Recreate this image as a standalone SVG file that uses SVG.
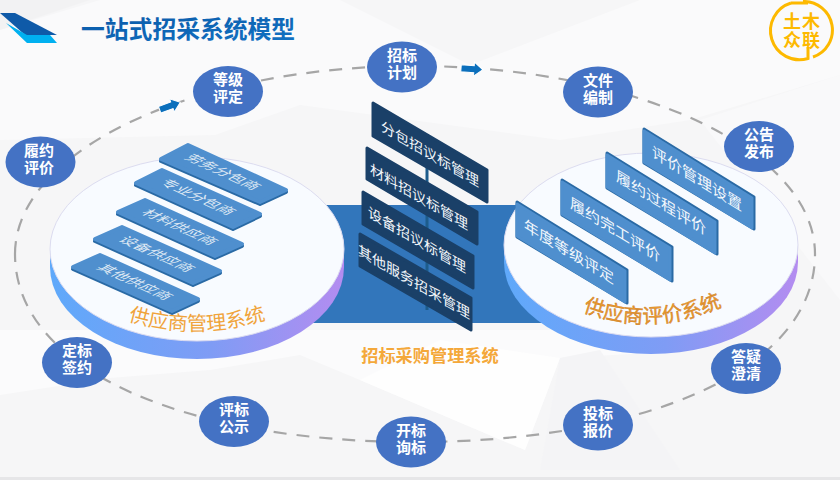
<svg xmlns="http://www.w3.org/2000/svg" width="840" height="480" viewBox="0 0 840 480">
<style>
text{font-family:"Liberation Sans","Noto Sans CJK SC",sans-serif}
.nb{fill:#4472c4}
.nt{fill:#fff;font-size:15px;font-weight:700;text-anchor:middle}
.dark{fill:#1a4068;stroke:#1a4068;stroke-width:3;stroke-linejoin:round}
.dt{fill:#f2f6fa;font-size:14px;text-anchor:middle}
.lc{fill:#4f8fce;stroke:#4f8fce;stroke-width:4;stroke-linejoin:round}
.le{fill:#2a6aa5;stroke:#2a6aa5;stroke-width:4;stroke-linejoin:round}
.lt{fill:#dfe9f4;font-size:14px;text-anchor:middle}
.rc{fill:#4f8fce;stroke:#4f8fce;stroke-width:3;stroke-linejoin:round}
.re{fill:#2a6aa5;stroke:#2a6aa5;stroke-width:3;stroke-linejoin:round}
.rt{fill:#f2f7fc;font-size:15px;text-anchor:middle}
.top{fill:#f8fbff;stroke:#dcdcf0;stroke-width:1}
.logo{fill:none;stroke:#fdb900;stroke-width:3}
.lg{fill:#fdb900;font-size:18px;font-weight:700;text-anchor:middle}
</style>
<defs>
<linearGradient id="rim" x1="0" x2="1" y1="0" y2="0"><stop offset="0" stop-color="#5fa9fa"/><stop offset=".55" stop-color="#7f9cf5"/><stop offset="1" stop-color="#b48cf0"/></linearGradient>
<linearGradient id="title" x1="0" x2="1" y1="0" y2="1"><stop offset="0" stop-color="#0a5aa8"/><stop offset="1" stop-color="#1272c4"/></linearGradient>
<path id="arr" d="M-11,-3.500H2V-7L11,0L2,7V3.500H-11Z" fill="#0b6fbc" stroke="#fff" stroke-width="1"/>
<path id="p1" d="M126,320 Q197,342 268,319"/>
<path id="p2" d="M582,311 Q653,338 723,306"/>
</defs>

<g id="background">
<rect width="840" height="480" fill="#f6f6f7"/>
<polygon points="0,30 100,0 340,0 470,65 640,0 840,0 840,75 690,120 560,140 300,105 215,135 0,140" fill="#fafafb"/>
<polygon points="0,0 90,0 0,30" fill="#f2f2f3"/>
<polygon points="0,395 110,378 210,370 300,355 360,380 525,450 560,358 700,350 620,330 300,330 80,330 0,330" fill="#fbfbfc"/>
<polygon points="360,380 525,450 560,358 440,340" fill="#fefefe"/>
<polygon points="560,358 600,350 680,470 540,470" fill="#f4f4f6"/>
<polygon points="840,75 700,120 840,300" fill="#f9f9fa"/>
<rect y="477" width="840" height="3" fill="#e6e6e8"/>
</g>

<g id="corner-mark">
<polygon points="0,13 15,13 57,35 25,35" fill="#0f5aa8"/>
<polygon points="6,23 27,35 50,35 57,43 27,43" fill="#00b0f0"/>
</g>
<text id="title-text" x="81" y="38" font-size="23.800" font-weight="700" fill="url(#title)">一站式招采系统模型</text>

<g id="logo">
<path class="logo" d="M791,3 A28.500,28.500 0 0 0 808,58.500 V47"/>
<path class="logo" d="M803,1.500 A28.500,28.500 0 0 1 813,57"/>
<path class="logo" d="M791,3 H808"/>
<text class="lg" x="792" y="28">土</text><text class="lg" x="811" y="28">木</text>
<text class="lg" x="792" y="47">众</text><text class="lg" x="811" y="47">联</text>
</g>

<g id="connectors">
<path d="M15,254 C15,150 195,66 415,66 C635,66 815,150 815,254 C815,372 640,442 415,442 C190,442 15,372 15,254 Z" fill="none" stroke="#a6a6a6" stroke-width="2.200" stroke-dasharray="13 10"/>
<use href="#arr" transform="translate(170,106) rotate(-20)"/>
<use href="#arr" transform="translate(472,69) rotate(4)"/>
</g>

<g id="band">
<rect x="300" y="205" width="260" height="118" fill="#3276bb"/>
<rect x="425.500" y="165" width="3" height="145" fill="#1d5c8c"/>
</g>

<g id="supplier-system">
<path d="M50,249 V267 A147,92 0 0 0 344,267 V249 Z" fill="url(#rim)"/>
<ellipse class="top" cx="197" cy="249" rx="147" ry="92"/>
<polygon class="le" points="161,161 188,147 286,192 260,204"/>
<polygon class="lc" points="161,159 188,145 286,190 260,202"/>
<polygon class="le" points="136,185 162,172 260,216 233,229"/>
<polygon class="lc" points="136,183 162,170 260,214 233,227"/>
<polygon class="le" points="118,214 145,202 242,246 215,258"/>
<polygon class="lc" points="118,212 145,200 242,244 215,256"/>
<polygon class="le" points="95,241 122,229 220,273 193,285"/>
<polygon class="lc" points="95,239 122,227 220,271 193,283"/>
<polygon class="le" points="73,269 100,257 198,301 172,313"/>
<polygon class="lc" points="73,267 100,255 198,299 172,311"/>
<text class="lt" y="5" transform="matrix(1,.46,-.9,.46,223,172)">劳务分包商</text>
<text class="lt" y="5" transform="matrix(1,.46,-.9,.46,198,197)">专业分包商</text>
<text class="lt" y="5" transform="matrix(1,.46,-.9,.46,180,227)">材料供应商</text>
<text class="lt" y="5" transform="matrix(1,.46,-.9,.46,157,254)">设备供应商</text>
<text class="lt" y="5" transform="matrix(1,.46,-.9,.46,135,282)">其他供应商</text>
<text font-size="20" fill="#f0a43c" text-anchor="middle"><textPath href="#p1" startOffset="50%">供应商管理系统</textPath></text>
</g>

<g id="evaluation-system">
<path d="M504,245 V262 A147,92 0 0 0 798,262 V245 Z" fill="url(#rim)"/>
<ellipse class="top" cx="651" cy="245" rx="147" ry="92"/>
<polygon class="re" points="644,129 754,197 754,229 644,163"/>
<polygon class="rc" points="644,131 752,198 752,228 644,162"/>
<polygon class="re" points="607,153 717,221 717,254 607,188"/>
<polygon class="rc" points="607,155 715,222 715,253 607,187"/>
<polygon class="re" points="562,180 672,247 672,281 562,215"/>
<polygon class="rc" points="562,182 670,248 670,280 562,214"/>
<polygon class="re" points="517,202 627,270 627,303 517,237"/>
<polygon class="rc" points="517,204 625,271 625,302 517,236"/>
<text class="rt" y="5" transform="matrix(1,.61,0,1,697,179)">评价管理设置</text>
<text class="rt" y="5" transform="matrix(1,.61,0,1,661,203)">履约过程评价</text>
<text class="rt" y="5" transform="matrix(1,.61,0,1,615,230)">履约完工评价</text>
<text class="rt" y="5" transform="matrix(1,.61,0,1,569,252)">年度等级评定</text>
<text font-size="20.500" fill="#eb9a30" stroke="#c9771a" stroke-width=".4" text-anchor="middle"><textPath href="#p2" startOffset="50%">供应商评价系统</textPath></text>
</g>

<g id="procurement-system">
<polygon class="dark" points="373,103 487,170 487,202 373,136"/>
<polygon class="dark" points="367,148 477,212 477,244 367,179"/>
<polygon class="dark" points="363,192 473,256 473,288 363,224"/>
<polygon class="dark" points="360,234 471,298 471,330 360,266"/>
<text class="dt" y="5" transform="matrix(1,.58,0,1,430,154)">分包招议标管理</text>
<text class="dt" y="5" transform="matrix(1,.58,0,1,419,197)">材料招议标管理</text>
<text class="dt" y="5" transform="matrix(1,.58,0,1,417,240)">设备招议标管理</text>
<text class="dt" y="5" transform="matrix(1,.58,0,1,414,282)">其他服务招采管理</text>
<text x="430" y="362" font-size="17.200" font-weight="700" fill="#f4a83a" text-anchor="middle">招标采购管理系统</text>
</g>

<g id="n-dengji"><ellipse class="nb" cx="228" cy="91.500" rx="35" ry="25.500"/><text class="nt" x="228" y="85">等级</text><text class="nt" x="228" y="102">评定</text></g>
<g id="n-jihua"><ellipse class="nb" cx="402" cy="67" rx="35" ry="25.500"/><text class="nt" x="402" y="60.500">招标</text><text class="nt" x="402" y="77.500">计划</text></g>
<g id="n-wenjian"><ellipse class="nb" cx="598" cy="92" rx="35" ry="25.500"/><text class="nt" x="598" y="85.500">文件</text><text class="nt" x="598" y="102.500">编制</text></g>
<g id="n-gonggao"><ellipse class="nb" cx="759" cy="146.500" rx="35" ry="25.500"/><text class="nt" x="759" y="140">公告</text><text class="nt" x="759" y="157">发布</text></g>
<g id="n-dayi"><ellipse class="nb" cx="746" cy="368.500" rx="35" ry="25.500"/><text class="nt" x="746" y="362">答疑</text><text class="nt" x="746" y="379">澄清</text></g>
<g id="n-toubiao"><ellipse class="nb" cx="598" cy="425" rx="35" ry="25.500"/><text class="nt" x="598" y="418.500">投标</text><text class="nt" x="598" y="435.500">报价</text></g>
<g id="n-kaibiao"><ellipse class="nb" cx="411" cy="442" rx="35" ry="25.500"/><text class="nt" x="411" y="435.500">开标</text><text class="nt" x="411" y="452.500">询标</text></g>
<g id="n-pingbiao"><ellipse class="nb" cx="234" cy="421.500" rx="35" ry="25.500"/><text class="nt" x="234" y="415">评标</text><text class="nt" x="234" y="432">公示</text></g>
<g id="n-dingbiao"><ellipse class="nb" cx="77" cy="362.500" rx="35" ry="25.500"/><text class="nt" x="77" y="356">定标</text><text class="nt" x="77" y="373">签约</text></g>
<g id="n-lvyue"><ellipse class="nb" cx="40.500" cy="162" rx="35" ry="25.500"/><text class="nt" x="39" y="155.500">履约</text><text class="nt" x="39" y="172.500">评价</text></g>
</svg>
